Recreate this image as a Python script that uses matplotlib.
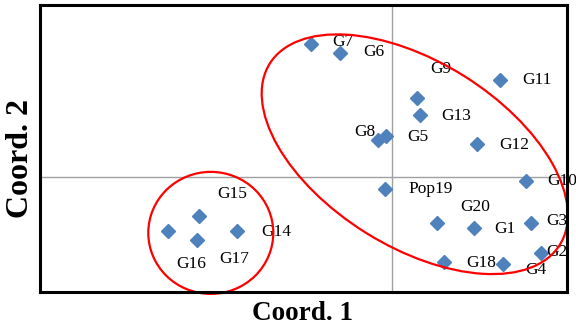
import numpy as np
import matplotlib
matplotlib.use('Agg')
import matplotlib.pyplot as plt
from matplotlib.patches import Ellipse
from matplotlib import transforms

# PCoA coordinates
names = ['G1', 'G2', 'G3', 'G4', 'G5', 'G6', 'G7', 'G8', 'G9', 'G10',
         'G11', 'G12', 'G13', 'G14', 'G15', 'G16', 'G17', 'G18', 'G20', 'Pop19']
coord1 = [0.084, 0.152, 0.142, 0.113, -0.006, -0.054, -0.083, -0.015, 0.025, 0.137,
          0.110, 0.087, 0.028, -0.159, -0.198, -0.230, -0.200, 0.053, 0.046, -0.007]
coord2 = [-0.088, -0.132, -0.079, -0.151, 0.071, 0.217, 0.232, 0.064, 0.138, -0.006,
          0.170, 0.057, 0.108, -0.093, -0.067, -0.093, -0.109, -0.148, -0.080, -0.020]

# label offsets (pixels) from each point
lab_dx = [31, 16, 26, 33, 31, 34, 32, -13, 24, 36,
          37, 37, 37, 39, 33, 23, 37, 37, 38, 45]
lab_dy = [-1, 1, 2, -6, -1, 1, 2, 8, 29, 0,
          0, -1, -1, -1, 22, -33, -19, -1, 16, 0]

blue = '#4f81bd'

plt.rcParams['font.family'] = ['Liberation Serif', 'DejaVu Serif']

fig = plt.figure(figsize=(5.76, 3.31), dpi=100)
ax = fig.add_axes([40/576, 39/331, 527/576, 287/331])

ax.axhline(0, color='#a0a0a0', lw=1, zorder=1)
ax.axvline(0, color='#a0a0a0', lw=1, zorder=1)

ax.plot(coord1, coord2, linestyle='none', marker='D', ms=6.8,
        color=blue, zorder=3)

for n, x, y, dx, dy in zip(names, coord1, coord2, lab_dx, lab_dy):
    ax.annotate(n, (x, y), xytext=(dx, dy), textcoords='offset pixels',
                ha='center', va='center', fontsize=12.5, zorder=4,
                annotation_clip=False)

# group ellipses (size in inches, centred on data points)
groups = [(-0.186, -0.097, 1.25, 1.22, 0),
          (0.023, 0.040, 3.42, 1.85, -32)]
for cx, cy, w, h, ang in groups:
    tr = fig.dpi_scale_trans + transforms.ScaledTranslation(cx, cy, ax.transData)
    e = Ellipse((0, 0), w, h, angle=ang, transform=tr, fill=False,
                edgecolor='#ff0000', lw=1.6, zorder=5, clip_on=False)
    ax.add_patch(e)

ax.set_xlim(-0.361, 0.179)
ax.set_ylim(-0.2, 0.3)
ax.set_xticks([])
ax.set_yticks([])
for s in ax.spines.values():
    s.set_linewidth(2.2)
    s.set_zorder(6)

fig.text(302/576, 1 - 314/331, 'Coord. 1', ha='center', va='center',
         fontsize=19.5, fontweight='bold')
fig.text(21/576, 1 - 158/331, 'Coord. 2', ha='center', va='center',
         fontsize=23, fontweight='bold', rotation=90)

fig.savefig('out.png', dpi=100)
